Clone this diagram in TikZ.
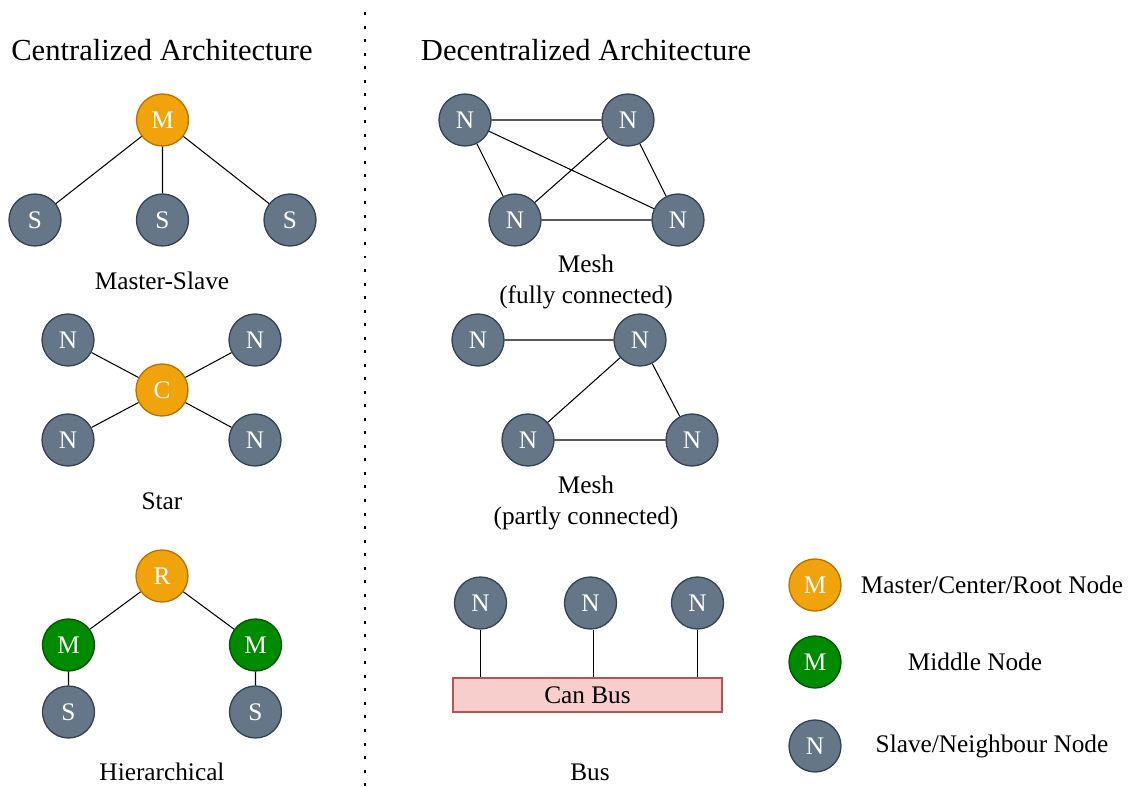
\documentclass[tikz,border=0pt]{standalone}
\usepackage{fontspec}
\setmainfont{Liberation Serif}
\usetikzlibrary{positioning}

\definecolor{rootfill}{HTML}{F0A30A}
\definecolor{rootline}{HTML}{BD7000}
\definecolor{midfill}{HTML}{008A00}
\definecolor{midline}{HTML}{005700}
\definecolor{slavefill}{HTML}{647687}
\definecolor{slaveline}{HTML}{314354}
\definecolor{busfill}{HTML}{F8CECC}
\definecolor{busline}{HTML}{B85450}

\tikzset{
	unit/.style={shape=circle, draw, line width=0.75pt, minimum size=1.04cm, inner sep=0pt, text=white, font=\fontsize{14.4}{16}\selectfont},
	rootnode/.style={unit, fill=rootfill, draw=rootline},
	midnode/.style={unit, fill=midfill, draw=midline},
	slavenode/.style={unit, fill=slavefill, draw=slaveline},
	caption/.style={align=center, font=\fontsize{14.4}{17.6}\selectfont},
	heading/.style={font=\fontsize{17.4}{20}\selectfont},
	link/.style={line width=0.6pt}
}

\begin{document}
\begin{tikzpicture}[x=0.02cm, y=-0.02cm]
	\useasboundingbox (0,0) rectangle (1130,787);

	% Headings and divider:
	\node[heading] (hcen) at (162,50) {Centralized Architecture};
	\node[heading] (hdec) at (586,50) {Decentralized Architecture};
	\draw[line width=1.7pt, dash pattern=on 1.7pt off 6pt] (365,12) -- (365,787);

	% Master-Slave:
	\node[rootnode] (ms-m) at (162.5,120) {M};
	\node[slavenode] (ms-s1) at (35,220) {S};
	\node[slavenode] (ms-s2) at (162.5,220) {S};
	\node[slavenode] (ms-s3) at (290,220) {S};
	\draw[link] (ms-m) -- (ms-s1) (ms-m) -- (ms-s2) (ms-m) -- (ms-s3);
	\node[caption] (ms-lbl) at (162,281) {Master-Slave};

	% Star:
	\node[rootnode] (st-c) at (162,390) {C};
	\node[slavenode] (st-n1) at (68,340) {N};
	\node[slavenode] (st-n2) at (255,340) {N};
	\node[slavenode] (st-n3) at (68,440) {N};
	\node[slavenode] (st-n4) at (255,440) {N};
	\foreach \i in {1,...,4}
		\draw[link] (st-c) -- (st-n\i);
	\node[caption] (st-lbl) at (162,501) {Star};

	% Hierarchical:
	\node[rootnode] (hi-r) at (162,576) {R};
	\node[midnode] (hi-m1) at (68.5,645) {M};
	\node[midnode] (hi-m2) at (255.5,645) {M};
	\node[slavenode] (hi-s1) at (68.5,712) {S};
	\node[slavenode] (hi-s2) at (255.5,712) {S};
	\draw[link] (hi-r) -- (hi-m1) (hi-r) -- (hi-m2) (hi-m1) -- (hi-s1) (hi-m2) -- (hi-s2);
	\node[caption] (hi-lbl) at (162,772) {Hierarchical};

	% Mesh, fully connected:
	\node[slavenode] (mf-a) at (465,120) {N};
	\node[slavenode] (mf-b) at (628,120) {N};
	\node[slavenode] (mf-c) at (515,220) {N};
	\node[slavenode] (mf-d) at (678,220) {N};
	\draw[link] (mf-a) -- (mf-b) (mf-a) -- (mf-c) (mf-a) -- (mf-d)
		(mf-b) -- (mf-c) (mf-b) -- (mf-d) (mf-c) -- (mf-d);
	\node[caption] (mf-lbl) at (586,282) {Mesh\\(fully connected)};

	% Mesh, partly connected:
	\node[slavenode] (mp-a) at (478,340) {N};
	\node[slavenode] (mp-b) at (640,340) {N};
	\node[slavenode] (mp-c) at (528,440) {N};
	\node[slavenode] (mp-d) at (692,440) {N};
	\draw[link] (mp-a) -- (mp-b) (mp-b) -- (mp-c) (mp-b) -- (mp-d) (mp-c) -- (mp-d);
	\node[caption] (mp-lbl) at (586,503) {Mesh\\(partly connected)};

	% Bus:
	\node[shape=rectangle, draw=busline, fill=busfill, line width=0.75pt, minimum width=5.38cm, minimum height=0.68cm, inner sep=0pt, font=\fontsize{14.4}{16}\selectfont] (bus) at (587.5,695) {Can Bus};
	\node[slavenode] (bu-a) at (480.5,603) {N};
	\node[slavenode] (bu-b) at (590.5,603) {N};
	\node[slavenode] (bu-c) at (697.5,603) {N};
	\draw[link] (bu-a) -- (bu-a |- bus.north);
	\draw[link] ([xshift=0.06cm]bu-b.south) -- ([xshift=0.06cm]bu-b.south |- bus.north);
	\draw[link] (bu-c) -- (bu-c |- bus.north);
	\node[caption] (bu-lbl) at (590,772) {Bus};

	% Legend:
	\node[rootnode] (lg-root) at (815,585) {M};
	\node[midnode] (lg-mid) at (815,662) {M};
	\node[slavenode] (lg-slave) at (815,746) {N};
	\node[caption] (lg-root-txt) at (992,585) {Master/Center/Root Node};
	\node[caption] (lg-mid-txt) at (975,662) {Middle Node};
	\node[caption] (lg-slave-txt) at (992,746) {Slave/Neighbour Node};
\end{tikzpicture}
\end{document}
